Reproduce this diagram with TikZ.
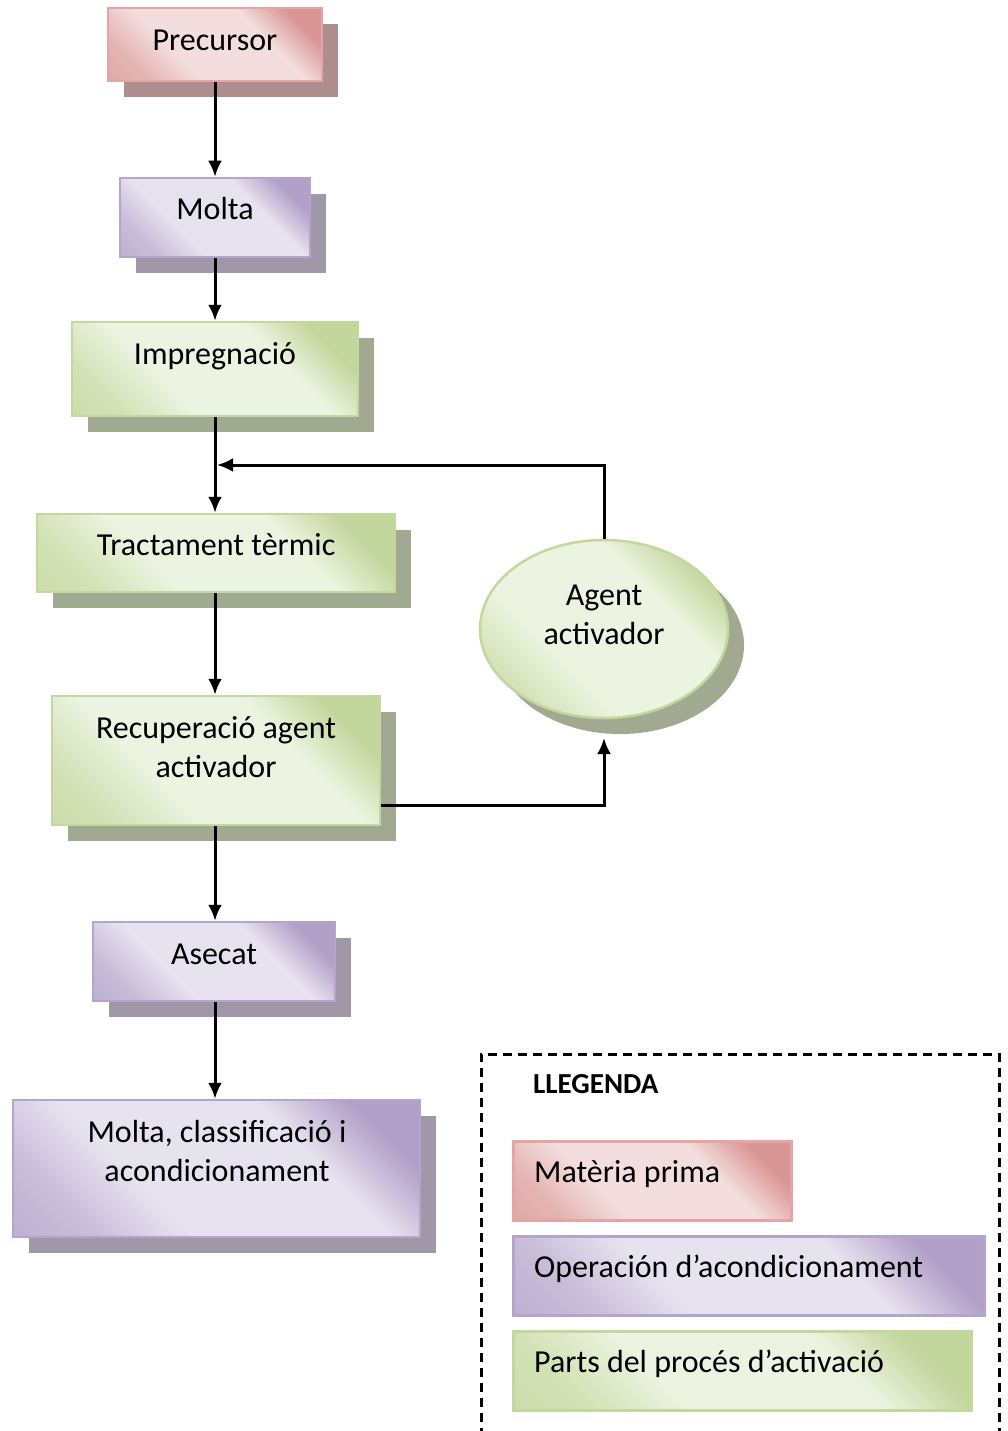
\documentclass[tikz,border=0pt]{standalone}
\usepackage{fontspec}
\setmainfont{Carlito}
\usetikzlibrary{shadows,arrows.meta,shapes.geometric,calc}
\definecolor{pinkD}{RGB}{217,150,148}
\definecolor{pinkM}{RGB}{228,180,179}
\definecolor{pinkL}{RGB}{243,222,221}
\definecolor{pinkB}{RGB}{229,165,164}
\definecolor{pinkS}{RGB}{174,142,141}
\definecolor{purD}{RGB}{178,160,200}
\definecolor{purM}{RGB}{200,188,216}
\definecolor{purL}{RGB}{231,226,239}
\definecolor{purB}{RGB}{181,164,203}
\definecolor{purS}{RGB}{160,151,168}
\definecolor{grnD}{RGB}{195,214,155}
\definecolor{grnM}{RGB}{211,226,182}
\definecolor{grnL}{RGB}{236,243,224}
\definecolor{grnB}{RGB}{196,215,158}
\definecolor{grnS}{RGB}{161,170,145}
\pgfdeclarehorizontalshading{shpink}{100bp}{color(0bp)=(pinkD);color(25bp)=(pinkM);color(38bp)=(pinkL);color(64bp)=(pinkL);color(76bp)=(pinkD);color(100bp)=(pinkD)}
\pgfdeclarehorizontalshading{shpur}{100bp}{color(0bp)=(purD);color(25bp)=(purM);color(38bp)=(purL);color(64bp)=(purL);color(76bp)=(purD);color(100bp)=(purD)}
\pgfdeclarehorizontalshading{shgrn}{100bp}{color(0bp)=(grnD);color(25bp)=(grnM);color(38bp)=(grnL);color(64bp)=(grnL);color(76bp)=(grnD);color(100bp)=(grnD)}
\tikzset{
  boxbase/.style={rectangle, inner sep=0pt, line width=2.5pt, shading angle=45},
  pinkbox/.style={boxbase, draw=pinkB, shading=shpink, general shadow={shadow xshift=16pt, shadow yshift=-16pt, fill=pinkS}},
  purbox/.style={boxbase, draw=purB, shading=shpur, general shadow={shadow xshift=16pt, shadow yshift=-16pt, fill=purS}},
  grnbox/.style={boxbase, draw=grnB, shading=shgrn, general shadow={shadow xshift=16pt, shadow yshift=-16pt, fill=grnS}},
  legpink/.style={boxbase, draw=pinkB, shading=shpink},
  legpur/.style={boxbase, draw=purB, shading=shpur},
  leggrn/.style={boxbase, draw=grnB, shading=shgrn},
  lbl/.style={font=\fontsize{32}{39}\selectfont, align=center, inner sep=0pt, anchor=base},
  leglbl/.style={font=\fontsize{32}{39}\selectfont, inner sep=0pt, anchor=base west},
  arr/.style={line width=3pt, -{Latex[length=16pt,width=14pt]}},
}
\begin{document}
\begin{tikzpicture}[x=1pt,y=-1pt]
\useasboundingbox (0,0) rectangle (1008,1431);
\clip (0,0) rectangle (1008,1431);
% main boxes
\node[pinkbox, minimum width=214pt, minimum height=73pt] (pre) at (215,44.5) {};
\node[purbox, minimum width=190pt, minimum height=79pt] (mol) at (215,217.5) {};
\node[grnbox, minimum width=286pt, minimum height=94pt] (imp) at (215,369) {};
\node[grnbox, minimum width=358pt, minimum height=78pt] (tra) at (216,553) {};
\node[grnbox, minimum width=328pt, minimum height=129pt] (rec) at (216,760.5) {};
\node[purbox, minimum width=242pt, minimum height=79pt] (ase) at (214,961.5) {};
\node[purbox, minimum width=407pt, minimum height=137pt] (mcl) at (216.5,1168.5) {};
\node[ellipse, line width=2.5pt, draw=grnB, shading=shgrn, shading angle=45, minimum width=248pt, minimum height=178pt, inner sep=0pt, general shadow={shadow xshift=16pt, shadow yshift=-16pt, fill=grnS}] (ag) at (604,629) {};
% labels
\node[lbl] (tpre) at (215,51) {Precursor};
\node[lbl] (tmol) at (215,220) {Molta};
\node[lbl] (timp) at (215,364) {Impregnació};
\node[lbl] (ttra) at (216,555) {Tractament tèrmic};
\node[lbl] (trec) at (216,777) {Recuperació agent\\activador};
\node[lbl] (tase) at (214,964) {Asecat};
\node[lbl] (tmcl) at (217,1181) {Molta, classificació i\\acondicionament};
\node[lbl] (tag) at (604,644) {Agent\\activador};
% connectors
\coordinate (ret) at (217,465);
\coordinate (agin) at (604,738);
\draw[arr] (pre.south) -- (mol.north);
\draw[arr] (mol.south) -- (imp.north);
\draw[arr] (imp.south -| 215,0) -- (tra.north -| 215,0);
\draw[arr] (ag.north) |- (ret);
\draw[arr] (tra.south -| 215,0) -- (rec.north -| 215,0);
\draw[arr] ([yshift=21pt]rec.south east) -| (agin);
\draw[arr] (rec.south -| 215,0) -- (ase.north -| 215,0);
\draw[arr] (ase.south -| 215,0) -- (mcl.north -| 215,0);
% legend
\node[draw, dashed, dash pattern=on 9pt off 6pt, line width=2.5pt, minimum width=518pt, minimum height=420pt, inner sep=0pt, anchor=north west] (leg) at (480,1053) {};
\node[font=\fontsize{29}{35}\selectfont\bfseries, inner sep=0pt, anchor=base west] (legt) at (533,1093) {LLEGENDA};
\node[legpink, minimum width=278pt, minimum height=79pt, anchor=north west] (lp) at (512,1140) {};
\node[legpur, minimum width=471pt, minimum height=79pt, anchor=north west] (lo) at (512,1235) {};
\node[leggrn, minimum width=458pt, minimum height=79pt, anchor=north west] (lg) at (512,1330) {};
\node[leglbl] (tlp) at (534,1182) {Matèria prima};
\node[leglbl] (tlo) at (534,1277) {Operación d’acondicionament};
\node[leglbl] (tlg) at (534,1372) {Parts del procés d’activació};
\end{tikzpicture}
\end{document}
